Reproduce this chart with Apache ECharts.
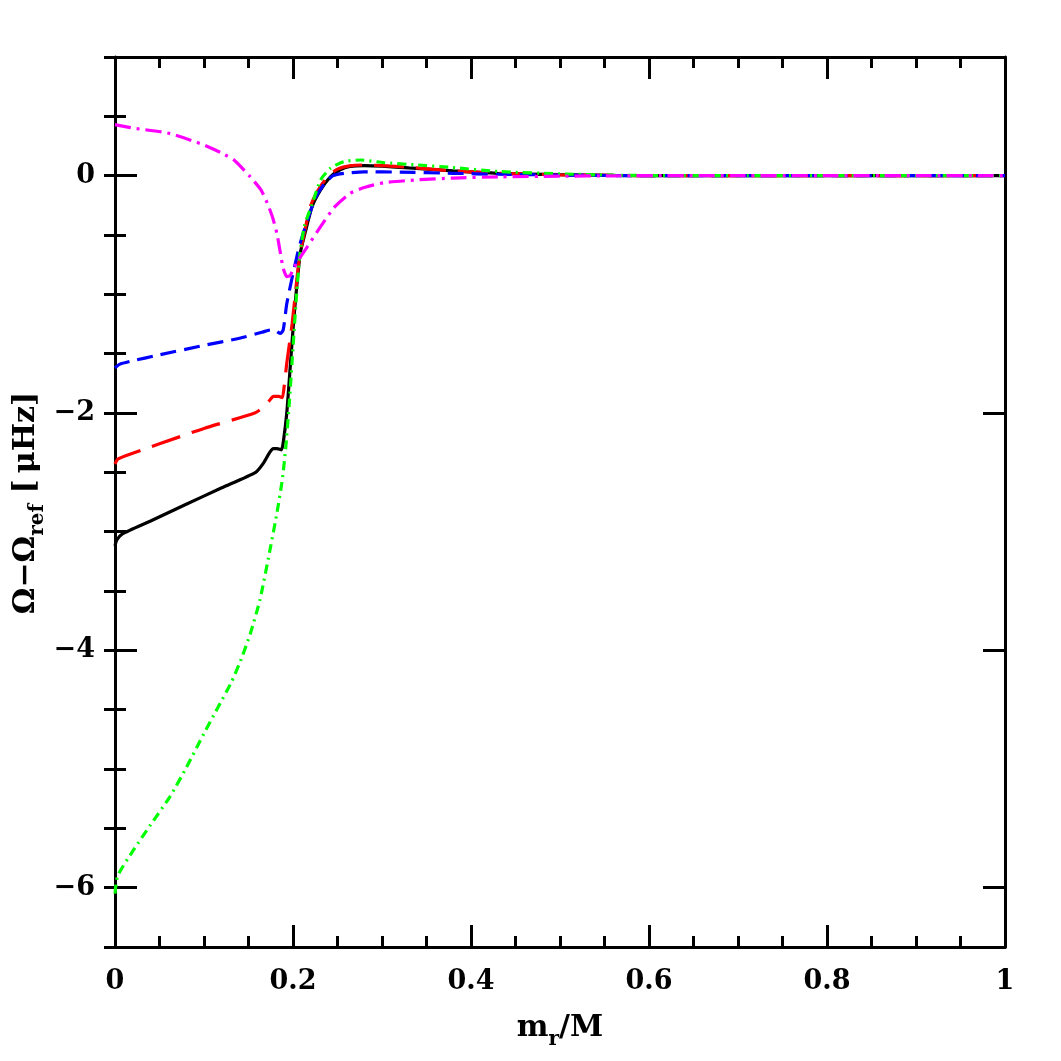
<!DOCTYPE html>
<html><head><meta charset="utf-8">
<script src="https://cdn.jsdelivr.net/npm/echarts@6/dist/echarts.min.js"></script>
<style>html,body{margin:0;padding:0;background:#fff}#c{width:1061px;height:1061px}</style>
</head><body><div id="c"></div>
<script>
// ---- data ----
const xTickValues = [0, 0.2, 0.4, 0.6, 0.8, 1];
const yMajorTicks = [-6, -4, -2, 0];

const blackX = [0, 0.002, 0.008, 0.04, 0.077, 0.12, 0.158, 0.167, 0.174, 0.178, 0.182, 0.187, 0.189, 0.193, 0.197, 0.201, 0.208, 0.214, 0.2215, 0.231, 0.242, 0.253, 0.264, 0.28, 0.3, 0.33, 0.38, 0.43, 0.5, 0.56, 0.62, 0.7, 0.8, 0.9, 1];
const blackY = [-3.12, -3.07, -3.02, -2.91, -2.78, -2.63, -2.5, -2.42, -2.33, -2.30, -2.30, -2.31, -2.25, -2.0, -1.6, -1.2, -0.66, -0.47, -0.26, -0.12, -0.01, 0.05, 0.077, 0.085, 0.08, 0.065, 0.04, 0.02, 0.008, 0.002, 0, 0, 0, 0, 0];

const redX = [0, 0.003, 0.012, 0.05, 0.1, 0.157, 0.167, 0.173, 0.178, 0.184, 0.188, 0.19, 0.193, 0.199, 0.207, 0.213, 0.22, 0.23, 0.24, 0.25, 0.265, 0.28, 0.3, 0.33, 0.38, 0.43, 0.5, 0.56, 0.62, 0.7, 0.8, 0.9, 1];
const redY = [-2.43, -2.39, -2.36, -2.26, -2.13, -2.0, -1.95, -1.9, -1.86, -1.86, -1.87, -1.78, -1.58, -1.25, -0.7, -0.47, -0.25, -0.1, 0.0, 0.055, 0.085, 0.09, 0.085, 0.07, 0.04, 0.02, 0.007, 0.002, 0, 0, 0, 0, 0];

const blueX = [0, 0.005, 0.017, 0.05, 0.1, 0.14, 0.165, 0.175, 0.18, 0.186, 0.189, 0.193, 0.199, 0.205, 0.21, 0.217, 0.225, 0.235, 0.245, 0.26, 0.28, 0.32, 0.38, 0.43, 0.5, 0.56, 0.62, 0.7, 0.8, 0.9, 1];
const blueY = [-1.62, -1.59, -1.565, -1.51, -1.43, -1.37, -1.32, -1.30, -1.305, -1.33, -1.30, -1.08, -0.86, -0.66, -0.52, -0.36, -0.19, -0.07, 0.0, 0.022, 0.032, 0.03, 0.02, 0.012, 0.005, 0.001, 0, 0, 0, 0, 0];

const greenX = [0, 0.003, 0.021, 0.04, 0.062, 0.08, 0.1, 0.115, 0.13, 0.141, 0.152, 0.163, 0.175, 0.182, 0.188, 0.192, 0.196, 0.2, 0.204, 0.208, 0.213, 0.2215, 0.231, 0.242, 0.257, 0.276, 0.302, 0.34, 0.377, 0.433, 0.5, 0.56, 0.62, 0.7, 0.8, 0.9, 1];
const greenY = [-6.05, -5.9, -5.68, -5.47, -5.23, -4.99, -4.70, -4.49, -4.28, -4.09, -3.86, -3.57, -3.12, -2.84, -2.56, -2.28, -1.9, -1.45, -1.0, -0.65, -0.42, -0.24, -0.036, 0.062, 0.118, 0.132, 0.11, 0.09, 0.07, 0.034, 0.015, 0.004, 0, 0, 0, 0, 0];

const magentaX = [0, 0.021, 0.059, 0.096, 0.12, 0.134, 0.152, 0.164, 0.171, 0.177, 0.182, 0.186, 0.189, 0.193, 0.197, 0.2, 0.207, 0.216, 0.231, 0.246, 0.264, 0.28, 0.302, 0.34, 0.38, 0.433, 0.5, 0.56, 0.62, 0.7, 0.8, 0.9, 1];
const magentaY = [0.43, 0.40, 0.36, 0.27, 0.19, 0.13, -0.01, -0.12, -0.23, -0.35, -0.49, -0.66, -0.78, -0.85, -0.84, -0.79, -0.70, -0.60, -0.43, -0.27, -0.15, -0.10, -0.06, -0.035, -0.02, -0.01, -0.004, -0.001, 0, 0, 0, 0, 0];

// ---- chart ----
const FONT = 'DejaVu Serif';
const zip = (xs, ys) => xs.map((x, i) => [x, ys[i]]);
const minus = v => String(v).replace('-', '\u2212');

const tickLine = { color: '#000', width: 3 };
function xAx(pos, showLabel) {
  return {
    type: 'value', min: 0, max: 1, interval: 0.2, position: pos,
    axisLine: { show: true, onZero: false, lineStyle: { color: '#000', width: 3 } },
    axisTick: { show: true, inside: true, length: 22, lineStyle: tickLine },
    minorTick: { show: true, splitNumber: 4, length: 11, lineStyle: tickLine },
    splitLine: { show: false }, minorSplitLine: { show: false },
    axisLabel: { show: showLabel, margin: 21, color: '#000', fontFamily: FONT, fontWeight: 'bold', fontSize: 27, formatter: v => minus(v) }
  };
}
function yMajor(pos, showLabel) {
  return {
    type: 'value', min: -6.5, max: 1, position: pos,
    axisLine: { show: true, onZero: false, lineStyle: { color: '#000', width: 3 } },
    axisTick: { show: true, inside: true, length: 22, lineStyle: tickLine, customValues: yMajorTicks },
    splitLine: { show: false },
    axisLabel: { show: showLabel, customValues: yMajorTicks, margin: 20, color: '#000', fontFamily: FONT, fontWeight: 'bold', fontSize: 27, formatter: v => minus(v) }
  };
}
function yMinor(pos) {
  return {
    type: 'value', min: -6.5, max: 1, interval: 0.5, position: pos,
    axisLine: { show: false },
    axisTick: { show: true, inside: true, length: 11, lineStyle: tickLine },
    splitLine: { show: false },
    axisLabel: { show: false }
  };
}

function ser(name, xs, ys, color, type) {
  return {
    name, type: 'line', data: zip(xs, ys), xAxisIndex: 0, yAxisIndex: 0,
    showSymbol: false, symbol: 'none', smooth: 0.2,
    lineStyle: { color, width: 3.2, type, cap: 'butt' }, animation: false
  };
}

const mainTxt = { fontFamily: FONT, fontWeight: 'bold', fontSize: 30, fill: '#000', lineHeight: 36 };
const subTxt = { fontFamily: FONT, fontWeight: 'bold', fontSize: 20, fill: '#000', lineHeight: 20, padding: [24, 0, 0, 0] };

const chart = echarts.init(document.getElementById('c'));
chart.setOption({
  backgroundColor: '#fff',
  animation: false,
  grid: { left: 115, right: 56, top: 57, bottom: 114, containLabel: false },
  xAxis: [xAx('bottom', true), xAx('top', false)],
  yAxis: [yMajor('left', true), yMajor('right', false), yMinor('left'), yMinor('right')],
  series: [
    ser('black', blackX, blackY, '#000000', 'solid'),
    ser('red', redX, redY, '#ff0000', [30, 12]),
    ser('blue', blueX, blueY, '#0000ff', [16, 8]),
    ser('green', greenX, greenY, '#00ff00', [9, 5, 2, 5]),
    ser('magenta', magentaX, magentaY, '#ff00ff', [16, 6, 3, 6])
  ],
  graphic: [
    {
      type: 'text', x: 560, y: 1028,
      style: {
        text: '{a|m}{s|r}{a|/M}', align: 'center', verticalAlign: 'middle',
        rich: { a: mainTxt, s: subTxt }
      }
    },
    {
      type: 'text', x: 26, y: 503, rotation: Math.PI / 2,
      style: {
        text: '{a|\u03A9\u2212\u03A9}{s|ref}{a| [\u2009\u03BCHz]}', align: 'center', verticalAlign: 'middle',
        rich: { a: mainTxt, s: subTxt }
      }
    }
  ]
});
</script>
</body></html>
